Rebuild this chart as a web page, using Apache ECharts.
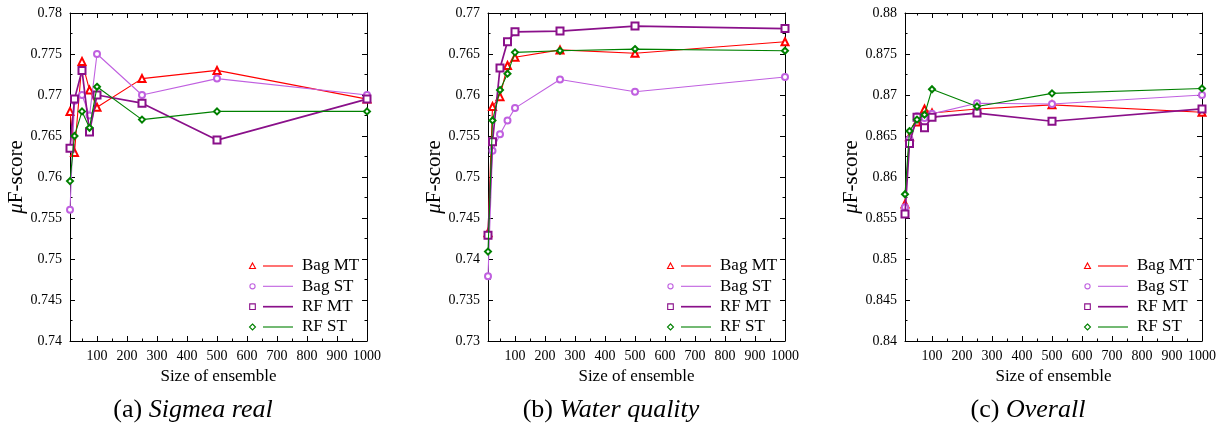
<!DOCTYPE html>
<html><head><meta charset="utf-8">
<script src="https://cdn.jsdelivr.net/npm/echarts@6/dist/echarts.min.js"></script>
<style>html,body{margin:0;padding:0;background:#fff}#c{width:1223px;height:428px}</style>
</head><body><div id="c"></div>
<script>
const sizes = [10, 25, 50, 75, 100, 250, 500, 1000];
const xMajorTicks = [100, 200, 300, 400, 500, 600, 700, 800, 900, 1000];
const xMinorTicks = [50, 150, 250, 350, 450, 550, 650, 750, 850, 950];
const seriesNames = ['Bag MT', 'Bag ST', 'RF MT', 'RF ST'];

const bagMT_a = [0.768, 0.763, 0.7741, 0.7706, 0.7685, 0.772, 0.773, 0.7695];
const bagST_a = [0.756, 0.7693, 0.770, 0.7675, 0.775, 0.770, 0.772, 0.770];
const rfMT_a  = [0.7635, 0.7695, 0.773, 0.7655, 0.770, 0.769, 0.7645, 0.7695];
const rfST_a  = [0.7595, 0.765, 0.768, 0.766, 0.771, 0.767, 0.768, 0.768];

const bagMT_b = [0.7432, 0.7586, 0.7598, 0.7636, 0.7646, 0.7655, 0.7651, 0.7665];
const bagST_b = [0.7379, 0.7532, 0.7552, 0.7569, 0.7584, 0.7619, 0.7604, 0.7622];
const rfMT_b  = [0.7429, 0.7543, 0.7633, 0.7665, 0.7677, 0.7678, 0.7684, 0.7681];
const rfST_b  = [0.7409, 0.7569, 0.7606, 0.7626, 0.7652, 0.7654, 0.7656, 0.7654];

const bagMT_c = [0.8567, 0.8649, 0.8667, 0.8683, 0.8678, 0.8683, 0.8688, 0.8679];
const bagST_c = [0.8563, 0.8646, 0.8674, 0.8672, 0.8677, 0.8690, 0.8689, 0.8700];
const rfMT_c  = [0.8555, 0.8641, 0.8673, 0.8660, 0.8673, 0.8678, 0.8668, 0.8683];
const rfST_c  = [0.8579, 0.8656, 0.8670, 0.8676, 0.8707, 0.8686, 0.8702, 0.8708];

const yMins = [0.74, 0.73, 0.84];
const yMaxs = [0.78, 0.77, 0.88];
const captions = ['Sigmea real', 'Water quality', 'Overall'];
const captionPrefix = ['(a) ', '(b) ', '(c) '];

const panels = [
  [bagMT_a, bagST_a, rfMT_a, rfST_a],
  [bagMT_b, bagST_b, rfMT_b, rfST_b],
  [bagMT_c, bagST_c, rfMT_c, rfST_c]
];

const FONT = '"Liberation Serif", "DejaVu Serif", serif';
const colors = ['#ff0000', '#c060e0', '#8a108a', '#008000'];
const symbols = ['emptyTriangle', 'emptyCircle', 'emptyRect', 'emptyDiamond'];
const symSizes = [7, 6, 7, 6];
const lineWidths = [1.1, 1.1, 1.7, 1.1];

const gridLefts = [70, 488, 905];
const captionCenters = [193, 611, 1028];
const gridW = 297, gridTop = 13, gridH = 328;

const grid = [], xAxis = [], yAxis = [], series = [], graphic = [];
for (let p = 0; p < 3; p++) {
  grid.push({left: gridLefts[p], top: gridTop, width: gridW, height: gridH});
  const base = {gridIndex: p, type: 'value', min: 10, max: 1000, splitLine: {show: false}};
  const lineStyle = {color: '#000', width: 1};
  xAxis.push(Object.assign({}, base, {
    position: 'bottom',
    axisLine: {show: true, lineStyle},
    axisTick: {show: true, inside: true, length: 5, customValues: xMajorTicks, lineStyle},
    axisLabel: {show: true, customValues: xMajorTicks, margin: 8, color: '#000', fontFamily: FONT, fontSize: 14,
      formatter: v => String(v)},
    name: 'Size of ensemble', nameLocation: 'middle', nameGap: 27,
    nameTextStyle: {color: '#000', fontFamily: FONT, fontSize: 17}
  }));
  xAxis.push(Object.assign({}, base, {
    position: 'bottom', offset: 0,
    axisLine: {show: false},
    axisTick: {show: true, inside: true, length: 2.5, customValues: xMinorTicks, lineStyle},
    axisLabel: {show: false}
  }));
  xAxis.push(Object.assign({}, base, {
    position: 'top', offset: 0,
    axisLine: {show: true, lineStyle},
    axisTick: {show: true, inside: true, length: 5, customValues: xMajorTicks, lineStyle},
    axisLabel: {show: false}
  }));
  xAxis.push(Object.assign({}, base, {
    position: 'top', offset: 0,
    axisLine: {show: false},
    axisTick: {show: true, inside: true, length: 2.5, customValues: xMinorTicks, lineStyle},
    axisLabel: {show: false}
  }));
  const ybase = {gridIndex: p, type: 'value', min: yMins[p], max: yMaxs[p], interval: 0.005, splitLine: {show: false},
    axisLine: {show: true, lineStyle},
    axisTick: {show: true, inside: true, length: 5, lineStyle},
    minorTick: {show: true, splitNumber: 2, length: 2.5, lineStyle}};
  yAxis.push(Object.assign({}, ybase, {
    position: 'left',
    axisLabel: {show: true, margin: 8, color: '#000', fontFamily: FONT, fontSize: 14,
      formatter: v => String(+v.toFixed(3))},
    name: '{i|μ}F-score', nameLocation: 'middle', nameGap: 42, nameRotate: 90,
    nameTextStyle: {color: '#000', fontFamily: FONT, fontSize: 21,
      rich: {i: {fontStyle: 'italic', fontFamily: FONT, fontSize: 21, color: '#000'}}}
  }));
  yAxis.push(Object.assign({}, ybase, {position: 'right', axisLabel: {show: false}}));

  for (let s = 0; s < 4; s++) {
    series.push({
      name: seriesNames[s], type: 'line',
      xAxisIndex: p * 4, yAxisIndex: p * 2,
      data: sizes.map((x, i) => [x, panels[p][s][i]]),
      symbol: symbols[s], symbolSize: symSizes[s], showAllSymbol: true,
      lineStyle: {color: colors[s], width: lineWidths[s]},
      itemStyle: {color: colors[s], borderWidth: 1},
      emphasis: {disabled: true}, animation: false, z: 2 + s
    });
  }

  // key drawn inside the lower right of each panel
  const right = gridLefts[p] + gridW;
  const rowsY = [266, 286.3, 306.7, 327];
  for (let s = 0; s < 4; s++) {
    const cx = right - 114.5, cy = rowsY[s];
    let shape;
    if (s === 0) shape = {type: 'polygon', shape: {points: [[cx, cy - 3], [cx + 3, cy + 2.5], [cx - 3, cy + 2.5]]}};
    else if (s === 1) shape = {type: 'circle', shape: {cx, cy, r: 2.6}};
    else if (s === 2) shape = {type: 'rect', shape: {x: cx - 2.8, y: cy - 2.8, width: 5.6, height: 5.6}};
    else shape = {type: 'polygon', shape: {points: [[cx, cy - 3], [cx + 3, cy], [cx, cy + 3], [cx - 3, cy]]}};
    shape.style = {fill: '#fff', stroke: colors[s], lineWidth: 1.1};
    graphic.push(shape);
    graphic.push({type: 'line', shape: {x1: right - 104, y1: cy, x2: right - 74, y2: cy},
      style: {stroke: colors[s], lineWidth: lineWidths[s]}});
    graphic.push({type: 'text', x: right - 65, y: cy,
      style: {text: seriesNames[s], fill: '#000', font: '17px ' + FONT, verticalAlign: 'middle'}});
  }
  graphic.push({type: 'text', x: captionCenters[p], y: 410,
    style: {text: captionPrefix[p] + '{i|' + captions[p] + '}', fill: '#000', font: '26px ' + FONT,
      align: 'center', verticalAlign: 'middle',
      rich: {i: {fontStyle: 'italic', fontFamily: FONT, fontSize: 26, fill: '#000'}}}});
}

const chart = echarts.init(document.getElementById('c'), null, {renderer: 'canvas'});
chart.setOption({animation: false, backgroundColor: '#fff', grid, xAxis, yAxis, series, graphic});
</script></body></html>
